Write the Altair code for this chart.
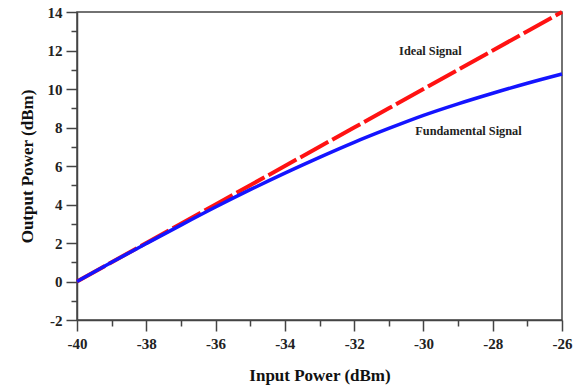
import altair as alt
import pandas as pd

# Data
input_power = [-40, -39, -38, -37, -36, -35, -34, -33, -32, -31, -30, -29, -28, -27, -26]
ideal_signal = [0, 1, 2, 3, 4, 5, 6, 7, 8, 9, 10, 11, 12, 13, 14]
fundamental_signal = [0, 1.0, 1.97, 2.93, 3.87, 4.77, 5.63, 6.45, 7.23, 7.95, 8.63, 9.23, 9.78, 10.3, 10.78]

label_text = ["Ideal Signal", "Fundamental Signal"]
label_x = [-29.8, -28.7]
label_y = [11.95, 7.8]

x_ticks = list(range(-40, -25))
y_ticks = list(range(-2, 15))

df = pd.DataFrame({
    "x": input_power * 2,
    "y": ideal_signal + fundamental_signal,
    "series": ["Ideal Signal"] * len(input_power) + ["Fundamental Signal"] * len(input_power),
})
labels = pd.DataFrame({"t": label_text, "x": label_x, "y": label_y})

FONT = "Liberation Serif"

x_scale = alt.Scale(domain=[-40, -26], nice=False, zero=False)
y_scale = alt.Scale(domain=[-2, 14], nice=False, zero=False)

even = "datum.value % 2 === 0"
label_expr = f"{even} ? toString(datum.value) : ''"

x_axis = alt.Axis(
    title="Input Power (dBm)",
    values=x_ticks,
    labelExpr=label_expr,
    tickSize={"condition": {"test": even, "value": 11}, "value": 6},
    grid=False,
    labelOverlap=False,
    labelFlush=False,
    labelPadding=5,
    titlePadding=16,
)
y_axis = alt.Axis(
    title="Output Power (dBm)",
    values=y_ticks,
    labelExpr=label_expr,
    tickSize={"condition": {"test": even, "value": 11}, "value": 6},
    grid=False,
    labelOverlap=False,
    labelFlush=False,
    labelPadding=4,
    titlePadding=11,
)

ideal = alt.Chart(df).transform_filter(alt.datum.series == "Ideal Signal").mark_line(
    color="#ff1212", strokeWidth=4, strokeDash=[32, 4.5]
).encode(
    x=alt.X("x:Q", scale=x_scale, axis=x_axis),
    y=alt.Y("y:Q", scale=y_scale, axis=y_axis),
)

fund = alt.Chart(df).transform_filter(alt.datum.series == "Fundamental Signal").mark_line(
    color="#1414ff", strokeWidth=3.5, interpolate="monotone"
).encode(
    x=alt.X("x:Q", scale=x_scale, axis=x_axis),
    y=alt.Y("y:Q", scale=y_scale, axis=y_axis),
)

text = alt.Chart(labels).mark_text(
    font=FONT, fontWeight="bold", fontSize=12.3, color="#222222"
).encode(
    x=alt.X("x:Q", scale=x_scale, axis=x_axis),
    y=alt.Y("y:Q", scale=y_scale, axis=y_axis),
    text="t:N",
)

chart = alt.layer(ideal, fund, text).properties(
    width=485,
    height=308,
    autosize=alt.AutoSizeParams(type="none"),
    padding={"left": 77, "top": 12, "right": 16, "bottom": 69},
    background="white",
).configure_view(
    stroke="#444444", strokeWidth=1.5
).configure_axis(
    domainColor="#444444",
    domainWidth=1.5,
    tickColor="#444444",
    tickWidth=1.5,
    labelOverlap=False,
    labelFont=FONT,
    labelFontWeight="bold",
    labelFontSize=15,
    labelColor="#222222",
    titleFont=FONT,
    titleFontWeight="bold",
    titleFontSize=17,
    titleColor="#111111",
)

chart.save("out.html", embed_options={"renderer": "svg", "actions": False})
